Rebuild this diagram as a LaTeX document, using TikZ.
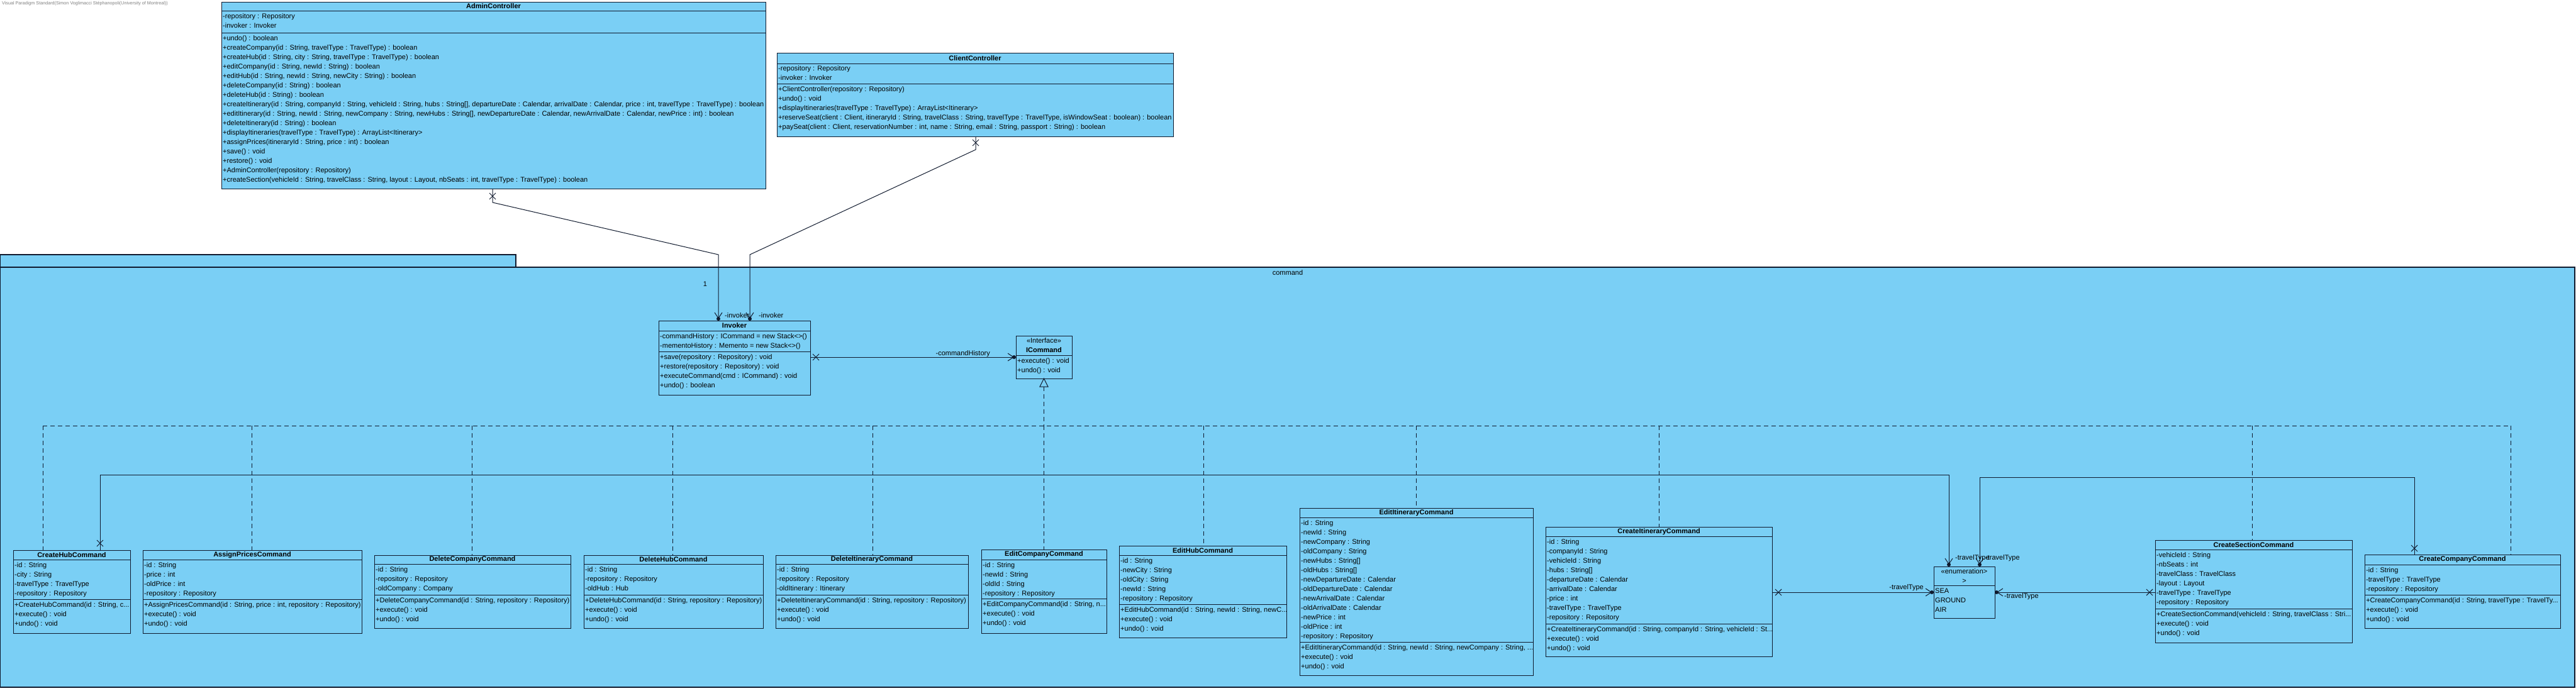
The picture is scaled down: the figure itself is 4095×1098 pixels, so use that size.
\documentclass[tikz,border=0pt]{standalone}
\usepackage{fontspec}
\setmainfont{Liberation Sans}
\usetikzlibrary{arrows.meta,calc}
\definecolor{cls}{RGB}{122,207,245}
\definecolor{ink}{RGB}{15,25,45}
\newcommand\tdots{...}
\tikzset{
  boxline/.style={draw=ink, line width=1pt},
  row/.style={anchor=west, inner sep=0pt, text height=8pt, text depth=2.5pt, font=\fontsize{11}{13}\selectfont},
  ttl/.style={inner sep=0pt, font=\bfseries\fontsize{11}{13}\selectfont},
  lbl/.style={inner sep=0pt, font=\fontsize{11}{13}\selectfont},
  assoc/.style={draw=ink, line width=1pt},
  tipv/.style={-{Straight Barb[length=9pt,width=12pt]}},
  realize/.style={draw=ink, line width=0.9pt, dash pattern=on 7pt off 5pt},
}
\newcommand\umlframe[7]{%
  \node[boxline, fill=cls, anchor=north west, minimum width={#3-#2}, minimum height={#7-#4}, inner sep=0pt, outer sep=0pt] (#1) at (#2,#4) {};
  \draw[boxline] (#2,#5) -- (#3,#5);
  \draw[boxline] (#2,#6) -- (#3,#6);
}
\newcommand\umlbox[8]{%
  \umlframe{#1}{#2}{#3}{#4}{#5}{#6}{#7}
  \node[ttl] (#1-title) at ({(#2+#3)/2},{(#4+#5)/2}) {#8};
}
\newcommand\umlrows[4]{\foreach \rt [count=\ri] in {#4} {\node[row] (#1-\ri) at (#2,{#3+15*(\ri-1)}) {\rt};}}
\newcommand\xmark[1]{\draw[assoc] (#1) +(-5,-5) -- +(5,5) (#1) +(-5,5) -- +(5,-5);}
\begin{document}
\begin{tikzpicture}[x=1pt,y=-1pt]
\useasboundingbox (0,0) rectangle (4095,1098);
\fill[white] (0,0) rectangle (4095,1098);
\node[anchor=west, inner sep=0pt, font=\fontsize{7.2}{8}\selectfont, text=gray] (wm) at (3,6) {Visual Paradigm Standard(Simon Voglimacci Stéphanopoli(University of Montreal))};

% package
\draw[boxline, line width=1.3pt, fill=cls] (0.7,405) rectangle (820,425);
\draw[boxline, line width=1.3pt, fill=cls] (0.7,425) rectangle (4093,1093);
\node[lbl] (pkglabel) at (2047,434) {command};

% AdminController
\umlbox{AdminController}{352}{1217}{3}{17}{52}{300}{AdminController}
\umlrows{AdminController-at}{354}{27}{-repository : Repository, -invoker : Invoker}
\umlrows{AdminController-op}{354}{62}{+undo() : boolean,
 {+createCompany(id : String, travelType : TravelType) : boolean},
 {+createHub(id : String, city : String, travelType : TravelType) : boolean},
 {+editCompany(id : String, newId : String) : boolean},
 {+editHub(id : String, newId : String, newCity : String) : boolean},
 +deleteCompany(id : String) : boolean,
 +deleteHub(id : String) : boolean,
 {+createItinerary(id : String, companyId : String, vehicleId : String, hubs : String[], departureDate : Calendar, arrivalDate : Calendar, price : int, travelType : TravelType) : boolean},
 {+editItinerary(id : String, newId : String, newCompany : String, newHubs : String[], newDepartureDate : Calendar, newArrivalDate : Calendar, newPrice : int) : boolean},
 +deleteItinerary(id : String) : boolean,
 +displayItineraries(travelType : TravelType) : ArrayList<Itinerary>,
 {+assignPrices(itineraryId : String, price : int) : boolean},
 +save() : void,
 +restore() : void,
 +AdminController(repository : Repository),
 {+createSection(vehicleId : String, travelClass : String, layout : Layout, nbSeats : int, travelType : TravelType) : boolean}}

% ClientController
\umlbox{ClientController}{1235}{1865}{84}{101}{133}{217}{ClientController}
\umlrows{ClientController-at}{1237}{110}{-repository : Repository, -invoker : Invoker}
\umlrows{ClientController-op}{1237}{143}{+ClientController(repository : Repository),
 +undo() : void,
 +displayItineraries(travelType : TravelType) : ArrayList<Itinerary>,
 {+reserveSeat(client : Client, itineraryId : String, travelClass : String, travelType : TravelType, isWindowSeat : boolean) : boolean},
 {+paySeat(client : Client, reservationNumber : int, name : String, email : String, passport : String) : boolean}}

% Invoker
\umlbox{Invoker}{1047}{1288}{510}{526}{559}{628}{Invoker}
\umlrows{Invoker-at}{1049}{536}{-commandHistory : ICommand = new Stack<>(), -mementoHistory : Memento = new Stack<>()}
\umlrows{Invoker-op}{1049}{569}{+save(repository : Repository) : void, +restore(repository : Repository) : void, +executeCommand(cmd : ICommand) : void, +undo() : boolean}

% ICommand
\umlframe{ICommand}{1615}{1704}{534}{565}{565}{602}
\node[lbl] (ICommand-st) at (1659.5,542) {<<Interface>>};
\node[ttl] (ICommand-title) at (1659.5,557) {ICommand};
\umlrows{ICommand-op}{1617}{575}{+execute() : void, +undo() : void}

% Enumeration
\umlframe{Enum}{3074}{3171}{901}{931}{931}{983}
\node[lbl] (Enum-st1) at (3122.5,909) {<<enumeration>};
\node[lbl] (Enum-st2) at (3122.5,924) {>};
\umlrows{Enum-lit}{3076}{941}{SEA, GROUND, AIR}

% Command classes
\umlbox{CreateHubCommand}{21}{207}{875}{890}{953}{1007}{CreateHubCommand}
\umlrows{CreateHubCommand-at}{23}{900}{-id : String, -city : String, -travelType : TravelType, -repository : Repository}
\umlrows{CreateHubCommand-op}{23}{963}{{+CreateHubCommand(id : String, c\tdots}, +execute() : void, +undo() : void}

\umlbox{AssignPricesCommand}{227}{575}{875}{890}{953}{1007}{AssignPricesCommand}
\umlrows{AssignPricesCommand-at}{229}{900}{-id : String, -price : int, -oldPrice : int, -repository : Repository}
\umlrows{AssignPricesCommand-op}{229}{963}{{+AssignPricesCommand(id : String, price : int, repository : Repository)}, +execute() : void, +undo() : void}

\umlbox{DeleteCompanyCommand}{595}{907}{883}{897}{946}{999}{DeleteCompanyCommand}
\umlrows{DeleteCompanyCommand-at}{597}{907}{-id : String, -repository : Repository, -oldCompany : Company}
\umlrows{DeleteCompanyCommand-op}{597}{956}{{+DeleteCompanyCommand(id : String, repository : Repository)}, +execute() : void, +undo() : void}

\umlbox{DeleteHubCommand}{928}{1213}{883}{897}{946}{999}{DeleteHubCommand}
\umlrows{DeleteHubCommand-at}{930}{907}{-id : String, -repository : Repository, -oldHub : Hub}
\umlrows{DeleteHubCommand-op}{930}{956}{{+DeleteHubCommand(id : String, repository : Repository)}, +execute() : void, +undo() : void}

\umlbox{DeleteItineraryCommand}{1233}{1539}{883}{897}{946}{999}{DeleteItineraryCommand}
\umlrows{DeleteItineraryCommand-at}{1235}{907}{-id : String, -repository : Repository, -oldItinerary : Itinerary}
\umlrows{DeleteItineraryCommand-op}{1235}{956}{{+DeleteItineraryCommand(id : String, repository : Repository)}, +execute() : void, +undo() : void}

\umlbox{EditCompanyCommand}{1560}{1759}{874}{890}{952}{1007}{EditCompanyCommand}
\umlrows{EditCompanyCommand-at}{1562}{900}{-id : String, -newId : String, -oldId : String, -repository : Repository}
\umlrows{EditCompanyCommand-op}{1562}{962}{{+EditCompanyCommand(id : String, n\tdots}, +execute() : void, +undo() : void}

\umlbox{EditHubCommand}{1779}{2045}{868}{883}{961}{1014}{EditHubCommand}
\umlrows{EditHubCommand-at}{1781}{893}{-id : String, -newCity : String, -oldCity : String, -newId : String, -repository : Repository}
\umlrows{EditHubCommand-op}{1781}{971}{{+EditHubCommand(id : String, newId : String, newC\tdots}, +execute() : void, +undo() : void}

\umlbox{EditItineraryCommand}{2066}{2437}{808}{823}{1021}{1074}{EditItineraryCommand}
\umlrows{EditItineraryCommand-at}{2068}{833}{-id : String, -newId : String, -newCompany : String, -oldCompany : String, -newHubs : String[], -oldHubs : String[], -newDepartureDate : Calendar, -oldDepartureDate : Calendar, -newArrivalDate : Calendar, -oldArrivalDate : Calendar, -newPrice : int, -oldPrice : int, -repository : Repository}
\umlrows{EditItineraryCommand-op}{2068}{1031}{{+EditItineraryCommand(id : String, newId : String, newCompany : String, \tdots}, +execute() : void, +undo() : void}

\umlbox{CreateItineraryCommand}{2457}{2817}{838}{853}{992}{1044}{CreateItineraryCommand}
\umlrows{CreateItineraryCommand-at}{2459}{863}{-id : String, -companyId : String, -vehicleId : String, -hubs : String[], -departureDate : Calendar, -arrivalDate : Calendar, -price : int, -travelType : TravelType, -repository : Repository}
\umlrows{CreateItineraryCommand-op}{2459}{1002}{{+CreateItineraryCommand(id : String, companyId : String, vehicleId : St\tdots}, +execute() : void, +undo() : void}

\umlbox{CreateSectionCommand}{3426}{3739}{859}{874}{968}{1022}{CreateSectionCommand}
\umlrows{CreateSectionCommand-at}{3428}{884}{-vehicleId : String, -nbSeats : int, -travelClass : TravelClass, -layout : Layout, -travelType : TravelType, -repository : Repository}
\umlrows{CreateSectionCommand-op}{3428}{978}{{+CreateSectionCommand(vehicleId : String, travelClass : Stri\tdots}, +execute() : void, +undo() : void}

\umlbox{CreateCompanyCommand}{3759}{4070}{882}{898}{946}{999}{CreateCompanyCommand}
\umlrows{CreateCompanyCommand-at}{3761}{908}{-id : String, -travelType : TravelType, -repository : Repository}
\umlrows{CreateCompanyCommand-op}{3761}{956}{{+CreateCompanyCommand(id : String, travelType : TravelTy\tdots}, +execute() : void, +undo() : void}

% Associations to Invoker
\coordinate (i1) at ([xshift=95pt,yshift=3pt]Invoker.north west);
\coordinate (i2) at ([xshift=145pt,yshift=3pt]Invoker.north west);
\draw[assoc,tipv] ([xshift=431pt]AdminController.south west) -- ++(0,22) -- (1142,405) -- (i1);
\draw[assoc,tipv] ([xshift=316pt]ClientController.south west) -- ++(0,21) -- (1192,405) -- (i2);
\fill[ink] (i1) circle (3pt);
\fill[ink] (i2) circle (3pt);
\xmark{[xshift=431pt,yshift=-12pt]AdminController.south west}
\xmark{[xshift=316pt,yshift=-10pt]ClientController.south west}
\node[lbl] (mult1) at (1121,452) {1};
\node[lbl, anchor=west] (role1) at (1152,502) {-invoker};
\node[lbl, anchor=west] (role2) at (1206,502) {-invoker};

% Invoker -> ICommand
\coordinate (ic) at ([xshift=-3pt]ICommand.west);
\draw[assoc,tipv] (Invoker.east |- ICommand.west) -- (ic);
\fill[ink] (ic) circle (3pt);
\xmark{[xshift=9pt]Invoker.east |- ICommand.west}
\node[lbl, anchor=base east] (role3) at (1574,565) {-commandHistory};

% Realization
\draw[boxline, fill=cls] (ICommand.south) -- ++(-6.5,13) -- ++(13,0) -- cycle;
\foreach \bx/\bn in {68/CreateHubCommand, 400/AssignPricesCommand, 750/DeleteCompanyCommand, 1069/DeleteHubCommand, 1387/DeleteItineraryCommand, 1659.5/EditCompanyCommand, 1913/EditHubCommand, 2251/EditItineraryCommand, 2637/CreateItineraryCommand, 3580/CreateSectionCommand, 3991/CreateCompanyCommand}{
  \coordinate (bus-\bn) at (\bx,677);
  \draw[realize] (bus-\bn) -- (bus-\bn |- \bn.north);
}
\draw[realize] (bus-CreateHubCommand) -- (bus-CreateCompanyCommand);
\draw[realize] ([yshift=-13pt]ICommand.south) -- (bus-EditCompanyCommand);

% Associations to enumeration
\coordinate (e1) at ([xshift=24pt,yshift=3pt]Enum.north west);
\coordinate (e2) at ([xshift=73pt,yshift=3pt]Enum.north west);
\coordinate (e3) at ([xshift=-3pt]Enum.west);
\coordinate (e4) at ([xshift=3pt]Enum.east);
\draw[assoc,tipv] ([xshift=138pt]CreateHubCommand.north west) |- (3098,755) -- (e1);
\draw[assoc,tipv] ([xshift=79pt]CreateCompanyCommand.north west) |- (3147,759) -- (e2);
\draw[assoc,tipv] (CreateItineraryCommand.east |- Enum.west) -- (e3);
\draw[assoc,tipv] (CreateSectionCommand.west |- Enum.east) -- (e4);
\foreach \e in {e1,e2,e3,e4} {\fill[ink] (\e) circle (3pt);}
\xmark{[xshift=138pt,yshift=11pt]CreateHubCommand.north west}
\xmark{[xshift=79pt,yshift=10pt]CreateCompanyCommand.north west}
\xmark{[xshift=10pt]CreateItineraryCommand.east |- Enum.west}
\xmark{[xshift=-9pt]CreateSectionCommand.west |- Enum.east}
\node[lbl, anchor=west] (role4) at (3108,888) {-travelType};
\node[lbl, anchor=west] (role5) at (3156,888) {-travelType};
\node[lbl, anchor=base east] (role6) at (3058,937) {-travelType};
\node[lbl, anchor=west] (role7) at (3186,949) {-travelType};
\end{tikzpicture}
\end{document}
